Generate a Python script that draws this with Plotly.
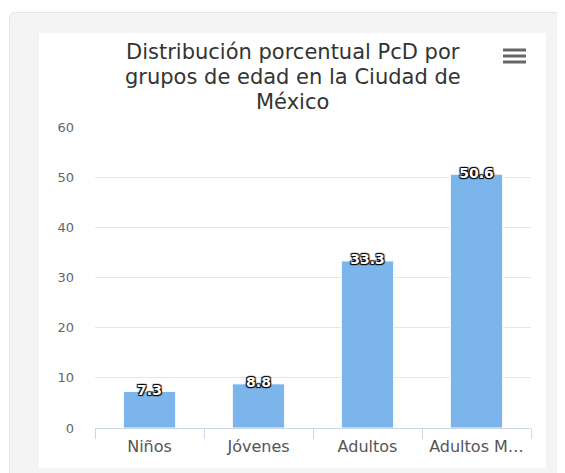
import plotly.graph_objects as go

# ---- data ----
categories = ["Niños", "Jóvenes", "Adultos", "Adultos Mayores"]
tick_labels = ["Niños", "Jóvenes", "Adultos", "Adultos M…"]
values = [7.3, 8.8, 33.3, 50.6]
title_lines = ["Distribución porcentual PcD por",
               "grupos de edad en la Ciudad de",
               "México"]

# ---- layout geometry (page pixels; the page body has an 8px margin) ----
OFF = 8
PAGE_W, PAGE_H = 565, 473
W, H = PAGE_W - OFF, PAGE_H - OFF
PL, PR, PT, PB = 95, 531, 127, 428  # plot area edges in page pixels


def px(x):
    return (x - PL) / (PR - PL)


def py(y):
    return (PB - y) / (PB - PT)


FONT = "DejaVu Sans"

fig = go.Figure()
fig.add_trace(go.Bar(
    x=categories, y=values, width=0.48,
    marker=dict(color="#7cb5ec", line=dict(color="#ffffff", width=1)),
    hoverinfo="x+y", showlegend=False,
))
fig.add_trace(go.Scatter(
    x=categories, y=values, mode="text",
    text=[f"{v:.1f}" for v in values],
    textposition="middle center",
    textfont=dict(family="DejaVu Sans", size=14, color="#ffffff", weight="bold",
                  shadow="1px 1px 1px #000, -1px -1px 1px #000, 1px -1px 1px #000, -1px 1px 1px #000"),
    hoverinfo="skip", showlegend=False, cliponaxis=False,
))

shapes = []
# grey card with rounded top-left corner
x0, y0, r = 9.5, 12.5, 6
path = (f"M {px(x0)},{py(PAGE_H + 10)} L {px(x0)},{py(y0 + r)} "
        f"Q {px(x0)},{py(y0)} {px(x0 + r)},{py(y0)} "
        f"L {px(PAGE_W + 10)},{py(y0)} L {px(PAGE_W + 10)},{py(PAGE_H + 10)} Z")
shapes.append(dict(type="path", xref="paper", yref="paper", path=path,
                   fillcolor="#f4f4f4", line=dict(color="#e4e4e4", width=1), layer="below"))
# white chart panel
shapes.append(dict(type="rect", xref="paper", yref="paper",
                   x0=px(39), x1=px(546), y0=py(33), y1=py(468),
                   fillcolor="#ffffff", line=dict(width=0), layer="below"))
# export menu (hamburger) icon
for yy in (50, 56, 62):
    shapes.append(dict(type="line", xref="paper", yref="paper",
                       x0=px(503), x1=px(526), y0=py(yy), y1=py(yy),
                       line=dict(color="#666666", width=3)))

annotations = []
for line, cy in zip(title_lines, (52, 77, 102)):
    annotations.append(dict(text=line, xref="paper", yref="paper",
                            x=px(292.5), y=py(cy), xanchor="center", yanchor="middle",
                            showarrow=False, borderpad=0,
                            font=dict(family=FONT, size=21, color="#333333")))

fig.update_layout(
    width=W, height=H,
    margin=dict(l=PL - OFF, r=PAGE_W - PR, t=PT - OFF, b=PAGE_H - PB, pad=0),
    paper_bgcolor="#ffffff",
    plot_bgcolor="rgba(0,0,0,0)",
    shapes=shapes,
    annotations=annotations,
    xaxis=dict(
        type="category",
        tickmode="array", tickvals=categories, ticktext=tick_labels,
        showline=True, linecolor="#ccd6eb", linewidth=1,
        ticks="outside", tickson="boundaries", ticklen=10, tickcolor="#ccd6eb", tickwidth=1,
        ticklabelstandoff=4,
        showgrid=False, zeroline=False,
        tickfont=dict(family=FONT, size=16, color="#555555"),
    ),
    yaxis=dict(
        range=[0, 60], dtick=10, tick0=0,
        showgrid=True, gridcolor="#e6e6e6", gridwidth=1,
        zeroline=False, showline=False, ticks="",
        ticklabelstandoff=20,
        tickfont=dict(family=FONT, size=13, color="#666666"),
    ),
    hovermode="closest",
)

fig.write_html("out.html", config={"displayModeBar": False})
